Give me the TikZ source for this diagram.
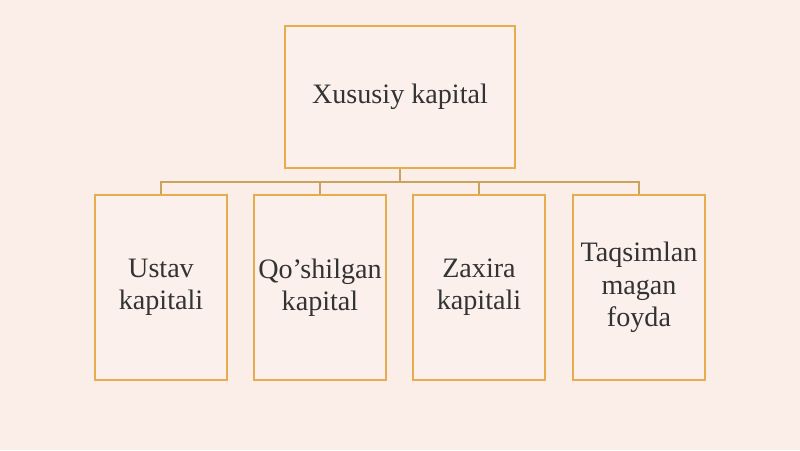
\documentclass[tikz,border=0pt]{standalone}
\usepackage{fontspec}
\setmainfont{Liberation Serif}
\definecolor{pagebg}{HTML}{FBEEE9}
\definecolor{boxfill}{HTML}{FBF0EC}
\definecolor{boxline}{HTML}{E6AC4E}
\definecolor{linkline}{HTML}{C8A460}
\definecolor{textcol}{HTML}{333333}
\tikzset{
  box/.style={draw=boxline, line width=1.4pt, fill=boxfill, text=textcol,
    font=\fontsize{20}{23}\selectfont, align=center, inner sep=2pt},
  link/.style={draw=linkline, line width=1.2pt}
}
\begin{document}
\begin{tikzpicture}[x=0.025cm, y=-0.025cm]
            \fill[pagebg] (0,0) rectangle (800,450);
            \useasboundingbox (0,0) rectangle (800,450);
            \node[box, minimum width=5.725cm, minimum height=3.55cm] (top) at (400,97) {Xususiy kapital};
            \node[box, minimum width=3.3cm, minimum height=4.625cm] (ustav) at (161,287.5) {Ustav\\kapitali};
            \node[box, minimum width=3.3cm, minimum height=4.625cm] (qoshil) at (320,287.5) {Qo’shilgan\\kapital};
            \node[box, minimum width=3.3cm, minimum height=4.625cm] (zaxira) at (479,287.5) {Zaxira\\kapitali};
            \node[box, minimum width=3.3cm, minimum height=4.625cm] (taqsim) at (639,287.5) {Taqsimlan\\magan\\foyda};
            \coordinate (bus) at (400,182);

            \draw[link] (top.south) -- (bus);
            \draw[link] (ustav.north) |- (bus) -| (taqsim.north);
            \draw[link] (qoshil.north) -- (qoshil.north |- bus);
            \draw[link] (zaxira.north) -- (zaxira.north |- bus);
        \end{tikzpicture}
\end{document}
